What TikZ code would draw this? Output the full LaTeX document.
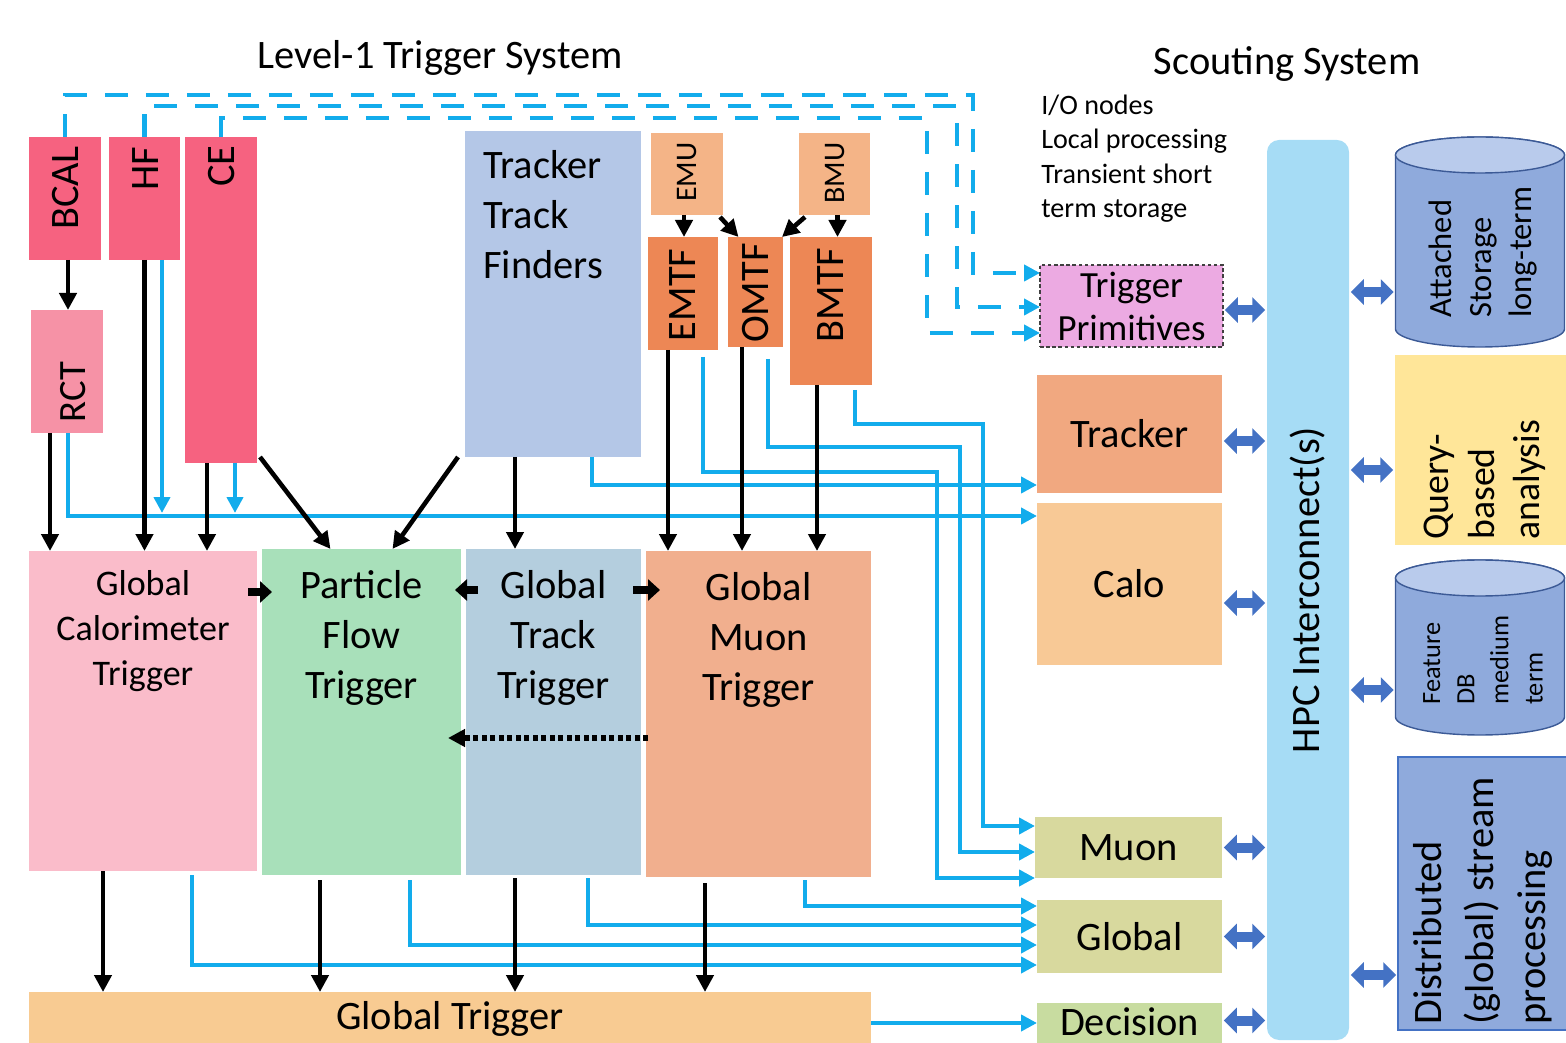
\documentclass[tikz,border=0pt]{standalone}
\usepackage{fontspec}
\setmainfont{Carlito}
\usetikzlibrary{arrows.meta,positioning,calc,shapes.geometric}
\definecolor{calred}{RGB}{246,98,128}
\definecolor{rctpink}{RGB}{246,146,166}
\definecolor{trkblue}{RGB}{180,199,231}
\definecolor{mulight}{RGB}{244,180,135}
\definecolor{mudark}{RGB}{237,135,85}
\definecolor{gctpink}{RGB}{250,188,202}
\definecolor{pfgreen}{RGB}{168,224,186}
\definecolor{gttblue}{RGB}{180,206,222}
\definecolor{gmtsalmon}{RGB}{241,175,142}
\definecolor{gtorange}{RGB}{248,203,146}
\definecolor{tpviolet}{RGB}{236,170,226}
\definecolor{scsalmon}{RGB}{241,168,128}
\definecolor{scorange}{RGB}{248,201,150}
\definecolor{scolive}{RGB}{216,217,158}
\definecolor{scgreen}{RGB}{200,220,160}
\definecolor{hpcblue}{RGB}{166,220,245}
\definecolor{stblue}{RGB}{143,170,220}
\definecolor{sttop}{RGB}{185,203,236}
\definecolor{stborder}{RGB}{60,90,150}
\definecolor{qyellow}{RGB}{255,230,153}
\definecolor{linkcyan}{RGB}{18,172,236}
\definecolor{dblblue}{RGB}{68,114,196}

\begin{document}
\begin{tikzpicture}[x=0.02cm,y=-0.02cm,
  sx/.style={xshift=(#1)*0.02cm},
  sy/.style={yshift=-(#1)*0.02cm},
  sz/.style 2 args={minimum width=#1*0.02cm,minimum height=#2*0.02cm},
  box/.style={rectangle,inner sep=0pt,outer sep=0pt},
  lbl/.style={inner sep=0pt,align=center,font=\fontsize{23}{28.5}\selectfont},
  rot/.style={lbl,rotate=90},
  blk/.style={line width=2.6pt,-{Triangle[length=0.34cm,width=0.34cm]}},
  stub/.style={line width=4pt,-{Triangle[length=0.24cm,width=0.42cm]}},
  link/.style={linkcyan,line width=2.6pt,-{Triangle[length=0.32cm,width=0.32cm]}},
  dlink/.style={link,dash pattern=on 0.46cm off 0.36cm},
  dbl/.style={dblblue,line width=0.2cm,{Triangle[length=0.26cm,width=0.5cm]}-{Triangle[length=0.26cm,width=0.5cm]},shorten <=1pt,shorten >=1pt},
  store/.style={draw=stborder,line width=0.8pt},
  endcap/.style={x radius=1.69cm,y radius=0.36cm}]
\useasboundingbox (0,0) rectangle (1566,1043);
\clip (0,0) rectangle (1566,1043);

% titles
\node[lbl] (l1title) at (440,58) {Level-1 Trigger System};
\node[lbl] (sctitle) at (1287,64) {Scouting System};
\node[lbl,anchor=north west,align=left,font=\fontsize{16}{19.4}\selectfont] (iotxt) at (1041,95) {I/O nodes\\Local processing\\Transient short\\term storage};

% calorimeter inputs
\node[box,fill=calred,sz={72}{123},anchor=north west] (bcal) at (29,137) {};
\node[box,fill=calred,sz={71}{123},anchor=north west] (hf) at (109,137) {};
\node[box,fill=calred,sz={72}{326},anchor=north west] (ce) at (185,137) {};
\node[box,fill=rctpink,sz={72}{123},anchor=north west] (rct) at (31,310) {};
\node[rot] (bcaltxt) at (66,188) {BCAL};
\node[rot] (hftxt) at (146,169) {HF};
\node[rot] (cetxt) at (222,166) {CE};
\node[rot,font=\fontsize{22}{26}\selectfont] (rcttxt) at (73,392) {RCT};

% tracker and muon inputs
\node[box,fill=trkblue,sz={176}{326},anchor=north west] (ttf) at (465,131) {};
\node[lbl,anchor=north west,align=left] (ttftxt) at ([sx=18,sy=19]ttf.north west) {Tracker\\Track\\Finders};
\node[box,fill=mulight,sz={72}{82},anchor=north west] (emu) at (651,133) {};
\node[box,fill=mulight,sz={71}{82},anchor=north west] (bmu) at (799,133) {};
\node[box,fill=mudark,sz={70}{113},anchor=north west] (emtf) at (648,237) {};
\node[box,fill=mudark,sz={55}{110},anchor=north west] (omtf) at (728,237) {};
\node[box,fill=mudark,sz={82}{148},anchor=north west] (bmtf) at (790,237) {};
\node[rot,font=\fontsize{17}{20}\selectfont] (emutxt) at (687,172) {EMU};
\node[rot,font=\fontsize{17}{20}\selectfont] (bmutxt) at (835,173) {BMU};
\node[rot] (emtftxt) at (683,295) {EMTF};
\node[rot] (omtftxt) at (756,293) {OMTF};
\node[rot] (bmtftxt) at (831,295) {BMTF};

% global layer
\node[box,fill=gctpink,sz={228}{320},anchor=north west] (gct) at (29,551) {};
\node[box,fill=pfgreen,sz={199}{326},anchor=north west] (pf) at (262,549) {};
\node[box,fill=gttblue,sz={175}{326},anchor=north west] (gtt) at (466,549) {};
\node[box,fill=gmtsalmon,sz={225}{326},anchor=north west] (gmt) at (646,551) {};
\node[lbl,anchor=north,font=\fontsize{20.5}{25.6}\selectfont] (gcttxt) at ([sy=19]gct.north) {Global\\Calorimeter\\Trigger};
\node[lbl,anchor=north] (pftxt) at ([sy=21]pf.north) {Particle\\Flow\\Trigger};
\node[lbl,anchor=north] (gtttxt) at ([sy=21]gtt.north) {Global\\Track\\Trigger};
\node[lbl,anchor=north] (gmttxt) at ([sy=21]gmt.north) {Global\\Muon\\Trigger};
\node[box,lbl,fill=gtorange,sz={842}{54},anchor=north west] (gtrig) at (29,992) {Global Trigger};

% scouting system
\node[box,lbl,fill=tpviolet,draw=black!75,dash pattern=on 2pt off 1.5pt,line width=0.6pt,sz={183}{82},anchor=north west,font=\fontsize{21}{24.5}\selectfont] (trigprim) at (1040,265) {Trigger\\Primitives};
\node[box,lbl,fill=scsalmon,sz={185}{118},anchor=north west] (tracker) at (1037,375) {Tracker};
\node[box,lbl,fill=scorange,sz={185}{162},anchor=north west] (calo) at (1037,503) {Calo};
\node[box,lbl,fill=scolive,sz={187}{61},anchor=north west] (muon) at (1035,817) {Muon};
\node[box,lbl,fill=scolive,sz={185}{73},anchor=north west] (global) at (1037,900) {Global};
\node[box,fill=scgreen,sz={185}{45},anchor=north west] (decision) at (1037,1003) {};
\node[lbl] (dectxt) at ([sy=-4]decision) {Decision};
\node[box,fill=hpcblue,rounded corners=0.24cm,sz={82}{900},anchor=north west] (hpc) at (1267,140) {};
\node[rot] (hpctxt) at (hpc) {HPC Interconnect(s)};

% storage and analysis
\node[box,sz={169}{210}] (attst) at (1480,242) {};
\filldraw[store,fill=stblue] ([sy=18]attst.north west) -- ([sy=-18]attst.south west)
  arc[start angle=180,end angle=360,endcap] -- ([sy=18]attst.north east)
  arc[start angle=0,end angle=180,endcap] -- cycle;
\filldraw[store,fill=sttop] ([sy=18]attst.north) ellipse[endcap];
\node[rot,anchor=west,align=left,font=\fontsize{18.5}{22.8}\selectfont] (attsttxt) at (1483,318) {Attached\\Storage\\long-term};
\node[box,fill=qyellow,sz={175}{190},anchor=north west] (query) at (1395,355) {};
\node[rot,anchor=west,align=left,font=\fontsize{21.5}{26}\selectfont] (querytxt) at (1485,540) {Query-\\based\\analysis};
\node[box,sz={169}{175}] (featdb) at (1480,647.5) {};
\filldraw[store,fill=stblue] ([sy=18]featdb.north west) -- ([sy=-18]featdb.south west)
  arc[start angle=180,end angle=360,endcap] -- ([sy=18]featdb.north east)
  arc[start angle=0,end angle=180,endcap] -- cycle;
\filldraw[store,fill=sttop] ([sy=18]featdb.north) ellipse[endcap];
\node[rot,anchor=west,align=left,font=\fontsize{15}{19.4}\selectfont] (featdbtxt) at (1483,705) {Feature\\DB\\medium\\term};
\node[box,fill=stblue,draw=dblblue,line width=1.2pt,sz={172}{273},anchor=north west] (dist) at (1398,757) {};
\node[rot,anchor=west,align=left,font=\fontsize{23}{29.6}\selectfont] (disttxt) at (1483,1025) {Distributed\\(global) stream\\processing};

% raw data to scouting
\coordinate (calobus) at ([sy=-68]calo.west);
\coordinate (trkbus) at ([sy=51]tracker.west);
\draw[dlink] (bcal.north) -- ++(0,-42) -| ([sx=-67,sy=-33]trigprim.west) -- ([sy=-33]trigprim.west);
\draw[dlink] (hf.north) -- ++(0,-31) -| ([sx=-83,sy=1]trigprim.west) -- ([sy=1]trigprim.west);
\draw[dlink] (ce.north) -- ++(0,-19) -| ([sx=-113,sy=27]trigprim.west) -- ([sy=27]trigprim.west);
\draw[link] ([sx=1]rct.south) |- (calobus);
\draw[link] ([sx=17.5]hf.south) -- ([sx=17.5,sy=-3]hf.south |- calobus);
\draw[link] ([sx=14]ce.south) -- ([sx=14,sy=-3]ce.south |- calobus);
\draw[link] ([sx=39]ttf.south) |- (trkbus);
\draw[link] ([sx=20,sy=7]emtf.south) -- ++(0,115) -| ([sx=-98,sy=30.5]muon.west) -- ([sy=30.5]muon.west);
\draw[link] ([sx=12.5,sy=12]omtf.south) -- ++(0,88) -| ([sx=-75,sy=4.5]muon.west) -- ([sy=4.5]muon.west);
\draw[link] ([sx=24,sy=5]bmtf.south) -- ++(0,34) -| ([sx=-52,sy=-21.5]muon.west) -- ([sy=-21.5]muon.west);
\draw[link] ([sx=49,sy=4]gct.south) |- ([sy=28.5]global.west);
\draw[link] ([sx=48.5,sy=5]pf.south) |- ([sy=8.5]global.west);
\draw[link] ([sx=34.5,sy=3]gtt.south) |- ([sy=-11.5]global.west);
\draw[link] ([sx=46.5,sy=3]gmt.south) |- ([sy=-30.5]global.west);
\draw[link] ([sy=4]gtrig.east) -- ([sy=4]gtrig.east -| decision.west);

% trigger data flow
\draw[blk] ([sx=3]bcal.south) -- ([sx=3]bcal.south |- rct.north);
\draw[blk] ([sx=-17]rct.south) -- ([sx=-17]rct.south |- gct.north);
\draw[blk] (hf.south) -- (hf.south |- gct.north);
\draw[blk] ([sx=-14]ce.south) -- ([sx=-14]ce.south |- gct.north);
\draw[blk] ([sx=3,sy=-6]ce.south east) -- ([sx=-31]pf.north);
\draw[blk] ([sx=-7]ttf.south west) -- ([sx=31]pf.north);
\draw[blk] ([sx=-38]ttf.south) -- ([sx=-38]ttf.south |- gtt.north);
\draw[blk] ([sx=-3]emu.south) -- ([sx=-3]emu.south |- emtf.north);
\draw[blk] ([sx=-3,sy=2]emu.south east) -- ([sx=-17]omtf.north);
\draw[blk] ([sx=6,sy=2]bmu.south west) -- ([sx=-1]omtf.north east);
\draw[blk] ([sx=3]bmu.south) -- ([sx=3]bmu.south |- bmtf.north);
\draw[blk] ([sx=-15]emtf.south) -- ([sx=-15]emtf.south |- gmt.north);
\draw[blk] ([sx=-13.5]omtf.south) -- ([sx=-13.5]omtf.south |- gmt.north);
\draw[blk] ([sx=-14]bmtf.south) -- ([sx=-14]bmtf.south |- gmt.north);
\draw[stub] ([sx=-9,sy=-119]gct.east) -- ([sx=10,sy=-120]pf.west);
\draw[stub] ([sx=12,sy=-122]gtt.west) -- ([sx=-6,sy=-122]pf.east);
\draw[stub] ([sx=-8,sy=-122]gtt.east) -- ([sx=14,sy=-124]gmt.west);
\draw[blk,line width=3pt,dash pattern=on 0.1cm off 0.07cm] ([sx=2,sy=24]gmt.west) -- ([sx=-13,sy=26]pf.east);
\draw[blk] ([sx=-40]gct.south) -- ([sx=-40]gct.south |- gtrig.north);
\draw[blk] ([sx=-41.5,sy=5]pf.south) -- ([sx=-41.5]pf.south |- gtrig.north);
\draw[blk] ([sx=-38.5,sy=3]gtt.south) -- ([sx=-38.5]gtt.south |- gtrig.north);
\draw[blk] ([sx=-53.5,sy=6]gmt.south) -- ([sx=-53.5]gmt.south |- gtrig.north);

% interconnect
\draw[dbl] ([sy=4]trigprim.east) -- ([sy=4]trigprim.east -| hpc.west);
\draw[dbl] ([sy=7]tracker.east) -- ([sy=7]tracker.east -| hpc.west);
\draw[dbl] ([sy=19]calo.east) -- ([sy=19]calo.east -| hpc.west);
\draw[dbl] (muon.east) -- (muon.east -| hpc.west);
\draw[dbl] (global.east) -- (global.east -| hpc.west);
\draw[dbl] ([sy=-5]decision.east) -- ([sy=-5]decision.east -| hpc.west);
\draw[dbl] ([sy=50]attst.west -| hpc.east) -- ([sy=50]attst.west);
\draw[dbl] ([sy=20]query.west -| hpc.east) -- ([sy=20]query.west);
\draw[dbl] ([sy=42.5]featdb.west -| hpc.east) -- ([sy=42.5]featdb.west);
\draw[dbl] ([sy=81.5]dist.west -| hpc.east) -- ([sy=81.5]dist.west);
\end{tikzpicture}
\end{document}
